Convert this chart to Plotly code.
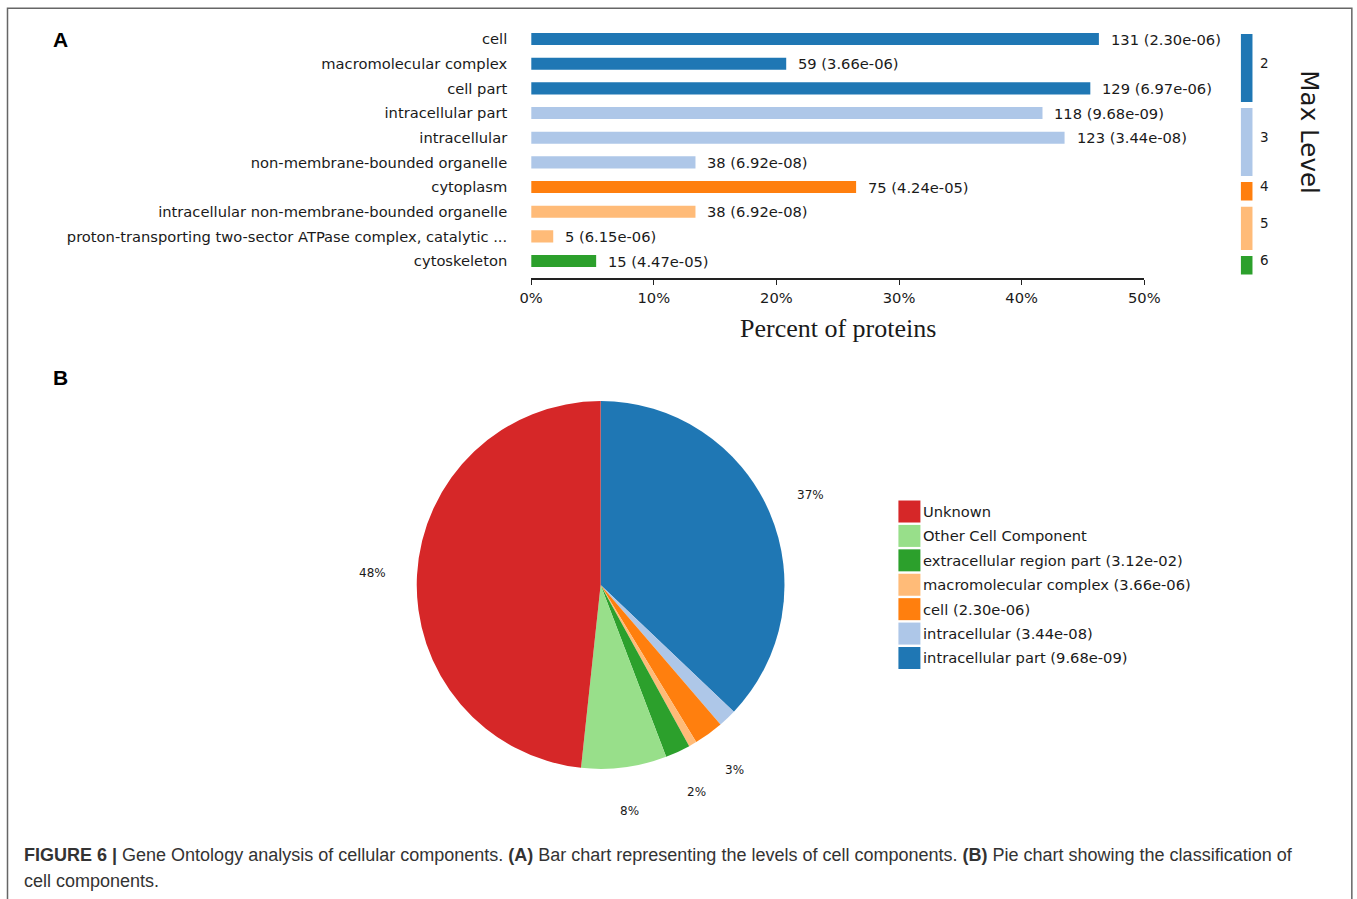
import numpy as np
import plotly.graph_objects as go

W, H = 1357, 899

# ---------------- data ----------------
categories = [
    "cell",
    "macromolecular complex",
    "cell part",
    "intracellular part",
    "intracellular",
    "non-membrane-bounded organelle",
    "cytoplasm",
    "intracellular non-membrane-bounded organelle",
    "proton-transporting two-sector ATPase complex, catalytic ...",
    "cytoskeleton",
]
percent = [46.3, 20.8, 45.6, 41.7, 43.5, 13.4, 26.5, 13.4, 1.8, 5.3]
counts = [131, 59, 129, 118, 123, 38, 75, 38, 5, 15]
pvalues = ["2.30e-06", "3.66e-06", "6.97e-06", "9.68e-09", "3.44e-08",
           "6.92e-08", "4.24e-05", "6.92e-08", "6.15e-06", "4.47e-05"]
max_level = [2, 2, 2, 3, 3, 3, 4, 5, 5, 6]
level_names = [2, 3, 4, 5, 6]
level_colors = ["#1f77b4", "#aec7e8", "#ff7f0e", "#ffbb78", "#2ca02c"]
x_ticks = [0, 10, 20, 30, 40, 50]
x_tick_labels = ["0%", "10%", "20%", "30%", "40%", "50%"]

pie_labels = ["Unknown", "Other Cell Component",
              "extracellular region part (3.12e-02)",
              "macromolecular complex (3.66e-06)",
              "cell (2.30e-06)", "intracellular (3.44e-08)",
              "intracellular part (9.68e-09)"]
pie_values = [48.3, 7.5, 2.2, 0.7, 2.6, 1.6, 37.1]
pie_text = ["48%", "8%", "2%", "", "3%", "", "37%"]
pie_colors = ["#d62728", "#98df8a", "#2ca02c", "#ffbb78", "#ff7f0e", "#aec7e8", "#1f77b4"]

# ---------------- helpers ----------------
# horizontal placement compensation (observed rendering: x_out = 12 + 0.98 * x_in)
XOFF, XSCL = 12.0, 0.98

def px_x(p):
    return (p - XOFF) / XSCL / W

def px_y(p):
    return 1 - p / H

FONT = "DejaVu Sans"
FS = 14.7
TXT = "#1a1a1a"
cmap = dict(zip(level_names, level_colors))
bar_colors = [cmap[l] for l in max_level]
idx = list(range(len(categories)))

fig = go.Figure()

# main bars
fig.add_trace(go.Bar(
    x=percent, y=idx, orientation="h", width=0.49,
    marker=dict(color=bar_colors, line=dict(width=0)),
    xaxis="x", yaxis="y", hoverinfo="skip", showlegend=False,
))

# Max Level colour strip
seg_base, seg_len, seg_col, seg_mid = [], [], [], []
for lv, col in zip(level_names, level_colors):
    ids = [i for i, l in enumerate(max_level) if l == lv]
    start, end = min(ids) - 0.2, max(ids) + 0.55
    seg_base.append(start)
    seg_len.append(end - start)
    seg_col.append(col)
    seg_mid.append(np.mean(ids) - 0.03)
fig.add_trace(go.Bar(
    x=[0] * len(seg_base), y=seg_len, base=seg_base, width=1,
    marker=dict(color=seg_col, line=dict(width=0)),
    xaxis="x2", yaxis="y2", hoverinfo="skip", showlegend=False,
))

# pie (matplotlib-style: first slice goes counter-clockwise from 12 o'clock;
# equivalent in plotly: reversed order drawn clockwise from 12 o'clock)
pie_cx, pie_cy, pie_r = 601, 585, 184
fig.add_trace(go.Pie(
    labels=pie_labels[::-1], values=pie_values[::-1], sort=False,
    direction="clockwise", rotation=0,
    marker=dict(colors=pie_colors[::-1], line=dict(width=0)),
    textinfo="none", hoverinfo="skip", showlegend=False,
    domain=dict(x=[px_x(pie_cx - pie_r), px_x(pie_cx + pie_r)],
                y=[px_y(pie_cy + pie_r), px_y(pie_cy - pie_r)]),
))

# pie legend swatches
fig.add_trace(go.Scatter(
    x=[0] * len(pie_labels), y=list(range(len(pie_labels))),
    mode="markers",
    marker=dict(symbol="square", size=22, color=pie_colors, line=dict(width=0)),
    xaxis="x3", yaxis="y3", cliponaxis=False, hoverinfo="skip", showlegend=False,
))

annotations = []
# legend texts
for k, lab in enumerate(pie_labels):
    annotations.append(dict(
        x=0, y=k, xref="x3", yref="y3", text=lab, showarrow=False,
        xanchor="left", yanchor="middle", xshift=12,
        font=dict(family=FONT, size=FS, color=TXT)))
# value labels on bars
for i, (p, c, pv) in enumerate(zip(percent, counts, pvalues)):
    annotations.append(dict(
        x=p, y=i, xref="x", yref="y", text=f"{c} ({pv})", showarrow=False,
        xanchor="left", yanchor="middle", xshift=10,
        font=dict(family=FONT, size=FS, color=TXT)))
# level labels
for lv, m in zip(level_names, seg_mid):
    annotations.append(dict(
        x=0.5, y=m, xref="x2", yref="y2", text=str(lv), showarrow=False,
        xanchor="left", yanchor="middle", xshift=5,
        font=dict(family=FONT, size=13.5, color=TXT)))
annotations.append(dict(
    x=px_x(1310), y=px_y(132.5), xref="paper", yref="paper", text="Max Level",
    showarrow=False, textangle=90, xanchor="center", yanchor="middle",
    font=dict(family=FONT, size=24.6, color=TXT)))
annotations.append(dict(
    x=0.5, y=px_y(329), xref="x domain", yref="paper", text="Percent of proteins",
    showarrow=False, xanchor="center", yanchor="middle",
    font=dict(family="Liberation Serif", size=26, color=TXT)))

# pie percentage labels (angles measured counter-clockwise from 12 o'clock)
vals = np.array(pie_values, dtype=float)
cum = np.cumsum(vals)
mid = (cum - vals / 2) / vals.sum() * 2 * np.pi
R = 1.24 * pie_r
for t, a in zip(pie_text, mid):
    if not t:
        continue
    lx = pie_cx - R * np.sin(a)
    ly = pie_cy - R * np.cos(a)
    annotations.append(dict(
        x=px_x(lx), y=px_y(ly), xref="paper", yref="paper", text=t,
        showarrow=False, xanchor="center", yanchor="middle",
        font=dict(family=FONT, size=12, color=TXT)))

# panel letters
for letter, yy in (("A", 40), ("B", 377)):
    annotations.append(dict(
        x=px_x(61), y=px_y(yy), xref="paper", yref="paper", text=f"<b>{letter}</b>",
        showarrow=False, xanchor="center", yanchor="middle",
        font=dict(family="Liberation Sans", size=21, color="#000")))

# caption
cap1 = ("<b>FIGURE 6 |</b> Gene Ontology analysis of cellular components. <b>(A)</b> Bar chart "
        "representing the levels of cell components. <b>(B)</b> Pie chart showing the classification of")
cap2 = "cell components."
for txt, yy in ((cap1, 855), (cap2, 881)):
    annotations.append(dict(
        x=px_x(22), y=px_y(yy), xref="paper", yref="paper", text=txt,
        showarrow=False, xanchor="left", yanchor="middle",
        font=dict(family="Liberation Sans", size=18, color="#333")))

y_dom = [px_y(278.3), px_y(26.7)]
y_rng = [9.7, -0.5]

fig.update_layout(
    width=W, height=H, autosize=False,
    margin=dict(l=0, r=0, t=0, b=0),
    paper_bgcolor="white", plot_bgcolor="white",
    barmode="overlay", showlegend=False,
    xaxis=dict(domain=[px_x(531.5), px_x(1145)], range=[0, 50], anchor="y",
               tickvals=x_ticks, ticktext=x_tick_labels, ticks="outside", ticklen=5,
               tickcolor="#222", tickwidth=1.3, showline=True, linecolor="#222",
               linewidth=1.5, showgrid=False, zeroline=False,
               tickfont=dict(family=FONT, size=FS, color=TXT)),
    yaxis=dict(domain=y_dom, range=y_rng, anchor="x",
               tickvals=idx, ticktext=categories, ticks="outside", ticklen=20,
               tickcolor="rgba(0,0,0,0)", showline=False, showgrid=False,
               zeroline=False, tickfont=dict(family=FONT, size=FS, color=TXT)),
    xaxis2=dict(domain=[px_x(1241.5), px_x(1253.5)], range=[-0.5, 0.5], anchor="y2",
                visible=False),
    yaxis2=dict(domain=y_dom, range=y_rng, anchor="x2", visible=False),
    xaxis3=dict(domain=[px_x(910), px_x(1300)], range=[0, 1], anchor="y3", visible=False),
    yaxis3=dict(domain=[px_y(658 + 12.2), px_y(511.5 - 12.2)], range=[6.5, -0.5],
                anchor="x3", visible=False),
    annotations=annotations,
    shapes=[dict(type="rect", xref="paper", yref="paper",
                 x0=px_x(7.5), x1=px_x(1352.7), y0=-0.02, y1=px_y(8.3),
                 line=dict(color="#666", width=1.5), fillcolor="rgba(0,0,0,0)")],
)

fig.write_html("out.html", include_plotlyjs=True, full_html=True,
               config=dict(displayModeBar=False),
               post_script="document.body.style.margin='0';document.body.style.overflow='hidden';")
